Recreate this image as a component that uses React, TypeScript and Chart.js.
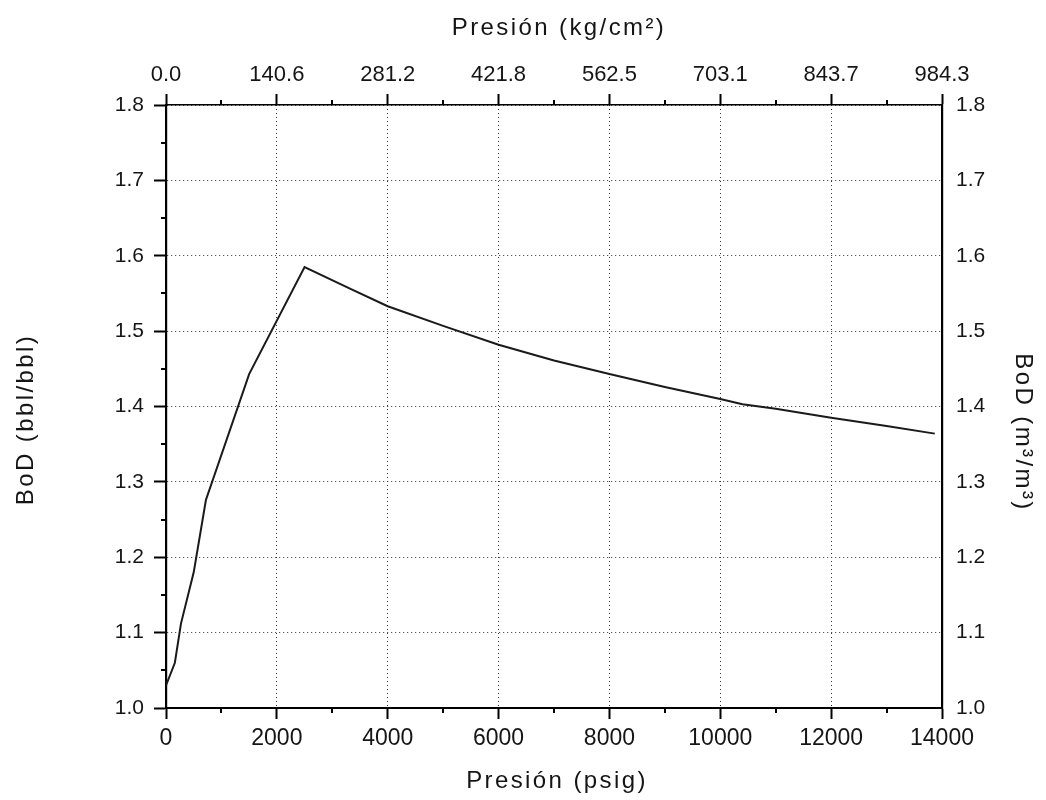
import React, { useEffect, useRef } from 'react';
import { Chart, registerables } from 'chart.js';

Chart.register(...registerables);

// ---- data ----
const pressurePsig = [0, 160, 270, 500, 720, 1500, 2500, 3300, 4000, 5000, 6000, 7000, 8000, 9000, 10000, 10400, 11000, 12000, 13000, 13870];
const bodValues = [1.03, 1.06, 1.112, 1.18, 1.276, 1.443, 1.585, 1.557, 1.533, 1.507, 1.482, 1.461, 1.443, 1.426, 1.41, 1.403, 1.397, 1.385, 1.374, 1.364];

const xTicks = [0, 2000, 4000, 6000, 8000, 10000, 12000, 14000];
const xTickLabels = ['0', '2000', '4000', '6000', '8000', '10000', '12000', '14000'];
const topTickLabels = ['0.0', '140.6', '281.2', '421.8', '562.5', '703.1', '843.7', '984.3'];
const xMinorTicks = [1000, 3000, 5000, 7000, 9000, 11000, 13000];

const yTicks = [1.0, 1.1, 1.2, 1.3, 1.4, 1.5, 1.6, 1.7, 1.8];
const yTickLabels = ['1.0', '1.1', '1.2', '1.3', '1.4', '1.5', '1.6', '1.7', '1.8'];
const yMinorTicks = [1.05, 1.15, 1.25, 1.35, 1.45, 1.55, 1.65, 1.75];

const FONT = "'Liberation Sans', Arial, Helvetica, sans-serif";
const TEXT = '#151515';

const titleShift: Record<string, { dx: number; dy: number }> = {
  x: { dx: 3, dy: 0 },
  x2: { dx: 5, dy: 0 },
  y: { dx: 0, dy: 13 },
  y2: { dx: 0, dy: 26 },
};

const titleTweak = {
  id: 'titleTweak',
  beforeDraw(chart: any) {
    Object.values(chart.scales).forEach((s: any) => {
      if (s.__wrapped) return;
      const orig = s.drawTitle.bind(s);
      s.drawTitle = (...args: any[]) => {
        const ctx = chart.ctx;
        ctx.save();
        (ctx as any).letterSpacing = '2.4px';
        const sh = titleShift[s.id] || { dx: 0, dy: 0 };
        ctx.translate(sh.dx, sh.dy);
        orig(...args);
        ctx.restore();
      };
      s.__wrapped = true;
    });
  },
};

const minorTicks = {
  id: 'minorTicks',
  afterDraw(chart: any) {
    const { ctx, chartArea } = chart;
    const xs = chart.scales.x;
    const ys = chart.scales.y;
    ctx.save();
    ctx.strokeStyle = '#000';
    ctx.lineWidth = 2;
    ctx.beginPath();
    xMinorTicks.forEach((v) => {
      const px = Math.round(xs.getPixelForValue(v));
      ctx.moveTo(px, chartArea.bottom);
      ctx.lineTo(px, chartArea.bottom + 5);
      ctx.moveTo(px, chartArea.top);
      ctx.lineTo(px, chartArea.top - 5);
    });
    yMinorTicks.forEach((v) => {
      const py = Math.round(ys.getPixelForValue(v));
      ctx.moveTo(chartArea.left, py);
      ctx.lineTo(chartArea.left - 5, py);
    });
    ctx.stroke();
    ctx.restore();
  },
};

export default function App() {
  const canvasRef = useRef<HTMLCanvasElement | null>(null);

  useEffect(() => {
    if (!canvasRef.current) return;
    const chart = new Chart(canvasRef.current, {
      type: 'line',
      data: {
        datasets: [
          {
            data: pressurePsig.map((p, i) => ({ x: p, y: bodValues[i] })),
            borderColor: '#1a1a1a',
            borderWidth: 2,
            pointRadius: 0,
            tension: 0,
            fill: false,
          },
        ],
      },
      options: {
        responsive: false,
        animation: false,
        events: [],
        layout: { padding: 0 },
        plugins: { legend: { display: false }, tooltip: { enabled: false } },
        scales: {
          x: {
            type: 'linear',
            position: 'bottom',
            min: 0,
            max: 14000,
            afterBuildTicks: (s: any) => {
              s.ticks = xTicks.map((v) => ({ value: v }));
            },
            afterFit: (s: any) => {
              s.height = 92;
            },
            ticks: {
              autoSkip: false,
              maxRotation: 0,
              padding: 6,
              color: TEXT,
              font: { family: FONT, size: 23 },
              callback: (_v: any, i: number) => xTickLabels[i],
            },
            grid: {
              color: '#333',
              lineWidth: 1,
              drawTicks: true,
              tickLength: 11,
              tickColor: '#000',
              tickWidth: 2,
              tickBorderDash: [],
            },
            border: { display: true, color: '#000', width: 2, dash: [1, 3] },
            title: {
              display: true,
              text: 'Presión (psig)',
              color: TEXT,
              font: { family: FONT, size: 24 },
              padding: { top: 0, bottom: 4 },
            },
          },
          x2: {
            type: 'linear',
            position: 'top',
            min: 0,
            max: 14000,
            afterBuildTicks: (s: any) => {
              s.ticks = xTicks.map((v) => ({ value: v }));
            },
            afterFit: (s: any) => {
              s.height = 105;
            },
            ticks: {
              autoSkip: false,
              maxRotation: 0,
              padding: 6,
              color: TEXT,
              font: { family: FONT, size: 22 },
              callback: (_v: any, i: number) => topTickLabels[i],
            },
            grid: {
              drawOnChartArea: false,
              drawTicks: true,
              tickLength: 11,
              tickColor: '#000',
              tickWidth: 2,
            },
            border: { display: true, color: '#000', width: 1.6 },
            title: {
              display: true,
              text: 'Presión (kg/cm²)',
              color: TEXT,
              font: { family: FONT, size: 24 },
              padding: { top: 14, bottom: 0 },
            },
          },
          y: {
            type: 'linear',
            position: 'left',
            min: 1.0,
            max: 1.8,
            afterBuildTicks: (s: any) => {
              s.ticks = yTicks.map((v) => ({ value: v }));
            },
            afterFit: (s: any) => {
              s.width = 166;
            },
            ticks: {
              autoSkip: false,
              padding: 10,
              color: TEXT,
              font: { family: FONT, size: 21 },
              callback: (_v: any, i: number) => yTickLabels[i],
            },
            grid: {
              color: '#333',
              lineWidth: 1,
              drawTicks: true,
              tickLength: 12,
              tickColor: '#000',
              tickWidth: 2,
              tickBorderDash: [],
            },
            border: { display: true, color: '#000', width: 2.2, dash: [1, 3] },
            title: {
              display: true,
              text: 'BoD (bbl/bbl)',
              color: TEXT,
              font: { family: FONT, size: 24 },
              padding: { top: 12, bottom: 0 },
            },
          },
          y2: {
            type: 'linear',
            position: 'right',
            min: 1.0,
            max: 1.8,
            afterBuildTicks: (s: any) => {
              s.ticks = yTicks.map((v) => ({ value: v }));
            },
            afterFit: (s: any) => {
              s.width = 104;
            },
            ticks: {
              autoSkip: false,
              padding: 14,
              color: TEXT,
              font: { family: FONT, size: 21 },
              callback: (_v: any, i: number) => yTickLabels[i],
            },
            grid: { display: false, drawTicks: false },
            border: { display: true, color: '#000', width: 2.2 },
            title: {
              display: true,
              text: 'BoD (m³/m³)',
              color: TEXT,
              font: { family: FONT, size: 24 },
              padding: { top: 9, bottom: 0 },
            },
          },
        },
      } as any,
      plugins: [titleTweak, minorTicks],
    });
    return () => chart.destroy();
  }, []);

  return (
    <div style={{ position: 'absolute', left: 0, top: 0, width: 1046, height: 800, background: '#fff' }}>
      <canvas ref={canvasRef} width={1046} height={800} style={{ display: 'block' }} />
    </div>
  );
}
